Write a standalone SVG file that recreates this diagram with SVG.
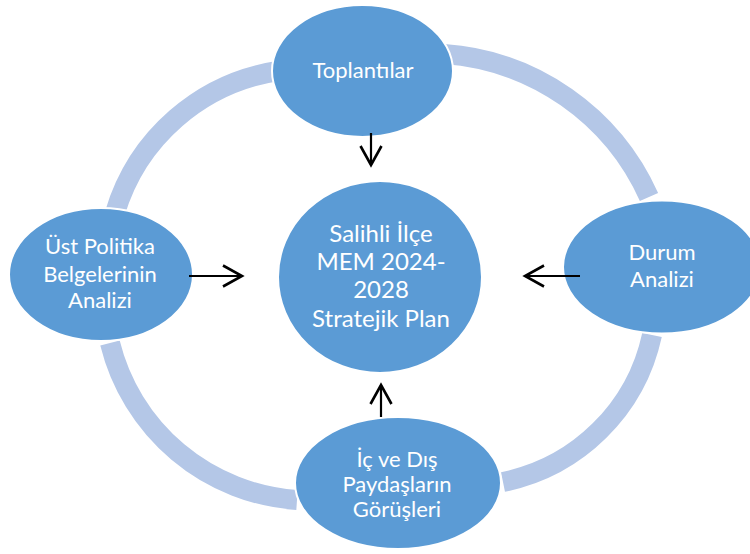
<svg xmlns="http://www.w3.org/2000/svg" width="750" height="554" viewBox="0 0 750 554">
<defs>
<style>
.ring{fill:none;stroke:#B4C7E7;stroke-width:20;stroke-linecap:butt}
.node{fill:#5B9BD5;stroke:#FFFFFF;stroke-width:2}
.lbl{fill:#FFFFFF;font-family:Lato,"Open Sans","Liberation Sans",sans-serif;font-size:22px;text-anchor:middle}
.big{font-size:24px}
.arr{fill:none;stroke:#000000;stroke-width:2.2}
</style>
<marker id="ah" markerUnits="userSpaceOnUse" markerWidth="30" markerHeight="30" viewBox="-25 -15 30 30" refX="0" refY="0" orient="auto">
<path d="M-19,-10.5 L0,0 L-19,10.5" fill="none" stroke="#000000" stroke-width="2.6" stroke-linejoin="miter"/>
</marker>
</defs>
<g id="ring">
<path class="ring" d="M115,213 A202,202 0 0 1 278,71"/>
<path class="ring" d="M444,54 A243,243 0 0 1 649,197"/>
<path class="ring" d="M652,335 A191,191 0 0 1 503,482"/>
<path class="ring" d="M297,500 A207,207 0 0 1 110,343"/>
</g>
<g id="n-center"><ellipse class="node" cx="380" cy="277" rx="102" ry="96"/>
<text class="lbl big"><tspan x="381" y="242">Salihli İlçe</tspan><tspan x="381" y="270">MEM 2024-</tspan><tspan x="381" y="298">2028</tspan><tspan x="381" y="327">Stratejik Plan</tspan></text></g>
<g id="n-top"><ellipse class="node" cx="362.5" cy="71" rx="90.5" ry="66"/>
<text class="lbl" x="363" y="78">Toplantılar</text></g>
<g id="n-left"><ellipse class="node" cx="101" cy="274.5" rx="92" ry="66.5"/>
<text class="lbl"><tspan x="100" y="254">Üst Politika</tspan><tspan x="100" y="282">Belgelerinin</tspan><tspan x="100" y="308">Analizi</tspan></text></g>
<g id="n-right"><ellipse class="node" cx="662" cy="267" rx="99" ry="66.5"/>
<text class="lbl"><tspan x="662" y="260">Durum</tspan><tspan x="662" y="287">Analizi</tspan></text></g>
<g id="n-bottom"><ellipse class="node" cx="398" cy="483" rx="103" ry="66"/>
<text class="lbl"><tspan x="397" y="467">İç ve Dış</tspan><tspan x="397" y="492">Paydaşların</tspan><tspan x="397" y="517">Görüşleri</tspan></text></g>
<g id="connectors">
<line class="arr" x1="371" y1="133" x2="371" y2="165" marker-end="url(#ah)"/>
<line class="arr" x1="189" y1="276" x2="242" y2="276" marker-end="url(#ah)"/>
<line class="arr" x1="580" y1="276" x2="525" y2="276" marker-end="url(#ah)"/>
<line class="arr" x1="381" y1="417" x2="381" y2="385" marker-end="url(#ah)"/>
</g>
</svg>
